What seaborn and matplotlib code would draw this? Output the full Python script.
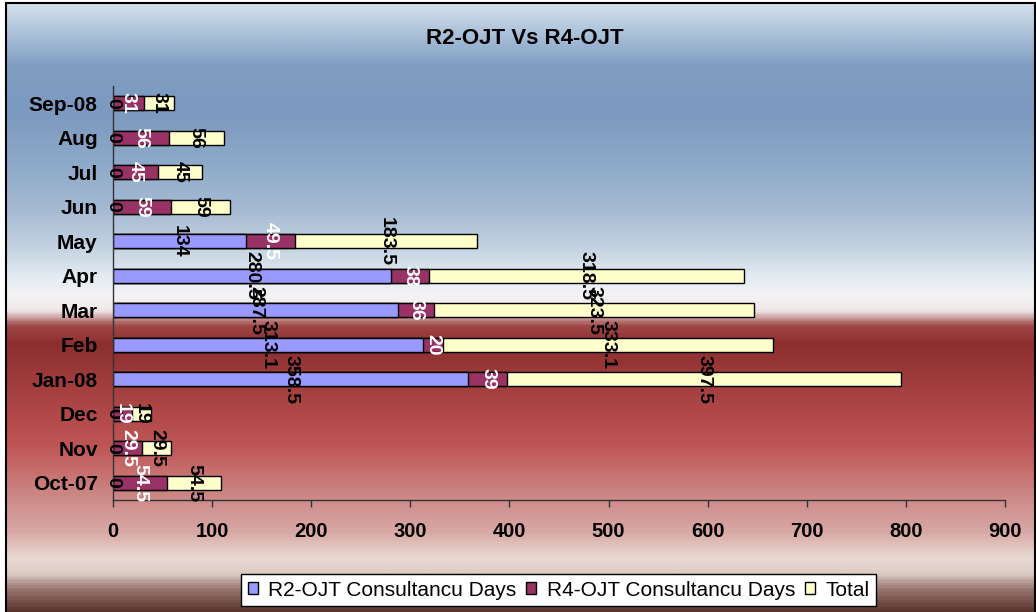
import numpy as np
import pandas as pd
import seaborn as sns
import matplotlib.pyplot as plt
from matplotlib.colors import LinearSegmentedColormap
from matplotlib.patches import Patch, Rectangle


# data, top row of the chart first
months = ['Sep-08', 'Aug', 'Jul', 'Jun', 'May', 'Apr', 'Mar', 'Feb',
          'Jan-08', 'Dec', 'Nov', 'Oct-07']
r2_days = [0, 0, 0, 0, 134, 280.5, 287.5, 313.1, 358.5, 0, 0, 0]
r4_days = [31, 56, 45, 59, 49.5, 38, 36, 20, 39, 19, 29.5, 54.5]
total_days = [31, 56, 45, 59, 183.5, 318.5, 323.5, 333.1, 397.5, 19, 29.5, 54.5]
x_ticks = [0, 100, 200, 300, 400, 500, 600, 700, 800, 900]

series_names = ['R2-OJT Consultancu Days', 'R4-OJT Consultancu Days', 'Total']
series_colors = ['#9999FF', '#993366', '#FFFFCC']

df = pd.DataFrame({'Month': months, 'R2': r2_days, 'R4': r4_days, 'Total': total_days})
df['R2_end'] = df['R2']
df['R4_end'] = df['R2'] + df['R4']
df['Total_end'] = df['R4_end'] + df['Total']

sns.set_theme(style='white')
plt.rcParams['font.family'] = ['Liberation Sans', 'DejaVu Sans']
plt.rcParams['text.color'] = 'black'
plt.rcParams['xtick.color'] = 'black'
plt.rcParams['ytick.color'] = 'black'

fig = plt.figure(figsize=(10.36, 6.12), dpi=100)
fig.patch.set_facecolor('white')

# chart area gradient (blue -> white -> dark red -> pink -> brown)
stops = [
	(0.00, '#D3E0EC'), (0.05, '#A9BFD8'), (0.10, '#809EC2'), (0.18, '#7C9ABF'),
	(0.26, '#8DA9C9'), (0.34, '#A6BBD3'), (0.40, '#C3D2E1'), (0.45, '#E4EBF2'),
	(0.48, '#F4F3F5'), (0.505, '#F0E8E8'), (0.53, '#A04848'), (0.56, '#8C2E2E'),
	(0.61, '#9C3A3A'), (0.68, '#B24A4A'), (0.73, '#BF5656'), (0.80, '#CA8280'),
	(0.87, '#D8A8A5'), (0.915, '#E9DAD4'), (0.94, '#DCCBC4'), (0.965, '#9A7670'),
	(1.00, '#5A362F'),
]
cmap = LinearSegmentedColormap.from_list('chartbg', stops)
bg = fig.add_axes([0, 0, 1, 1], zorder=-10)
bg.imshow(np.linspace(0, 1, 612)[:, None], aspect='auto', cmap=cmap,
	extent=[6 / 1036, 1, 0, 1 - 3 / 612])
bg.set_xlim(0, 1)
bg.set_ylim(0, 1)
bg.axis('off')
bg.add_patch(Rectangle((6 / 1036, -0.01), 1 - 7.5 / 1036, 1 - 3 / 612 + 0.01,
	fill=False, edgecolor='black', linewidth=1.5))

ax = fig.add_axes([113 / 1036, 1 - 500 / 612, 892 / 1036, 414 / 612])
ax.set_facecolor('none')

# stacked bars drawn as overlapping cumulative bars
for col, color in [('Total_end', series_colors[2]), ('R4_end', series_colors[1]),
		('R2_end', series_colors[0])]:
	sns.barplot(data=df, x=col, y='Month', order=months, orient='h',
		color=color, saturation=1, edgecolor='black', linewidth=1,
		width=0.42, ax=ax)

# rotated data labels at segment centres
for i in range(len(months)):
	r2 = r2_days[i]
	r4 = r4_days[i]
	tot = total_days[i]
	ax.text(r2 / 2, i, '{:g}'.format(r2), rotation=-90, ha='center', va='center',
		fontsize=14, fontweight='bold', color='black')
	ax.text(r2 + r4 / 2, i, '{:g}'.format(r4), rotation=-90, ha='center', va='center',
		fontsize=14, fontweight='bold', color='white')
	ax.text(r2 + r4 + tot / 2, i, '{:g}'.format(tot), rotation=-90, ha='center',
		va='center', fontsize=14, fontweight='bold', color='black')

ax.set_xlim(0, 900)
ax.set_ylim(len(months) - 0.5, -0.5)
ax.set_xticks(x_ticks)
ax.set_xticklabels([str(t) for t in x_ticks], fontsize=14.5, fontweight='bold')
ax.set_yticks(range(len(months)))
ax.set_yticklabels(months, fontsize=15, fontweight='bold')
ax.set_xlabel('')
ax.set_ylabel('')
ax.tick_params(axis='x', length=5, width=1, color='#333333', pad=11, direction='out',
	bottom=True)
ax.tick_params(axis='y', length=0, pad=11)
for side in ['top', 'right']:
	ax.spines[side].set_visible(False)
for side in ['left', 'bottom']:
	ax.spines[side].set_color('#333333')
	ax.spines[side].set_linewidth(1)
ax.grid(False)

fig.text(0.507, 1 - 38 / 612, 'R2-OJT Vs R4-OJT', ha='center', va='center',
	fontsize=16, fontweight='bold')

handles = [Patch(facecolor=c, edgecolor='black', linewidth=1) for c in series_colors]
leg = fig.legend(handles, series_names, loc='center', ncol=3,
	bbox_to_anchor=(558.5 / 1036, 1 - 590 / 612), fontsize=15, frameon=True,
	fancybox=False, edgecolor='black', framealpha=1, handlelength=0.5,
	handleheight=0.5, handletextpad=0.5, columnspacing=0.45, borderpad=0.3,
	borderaxespad=0)
leg.get_frame().set_linewidth(1)

plt.savefig('out.png', dpi=100)
